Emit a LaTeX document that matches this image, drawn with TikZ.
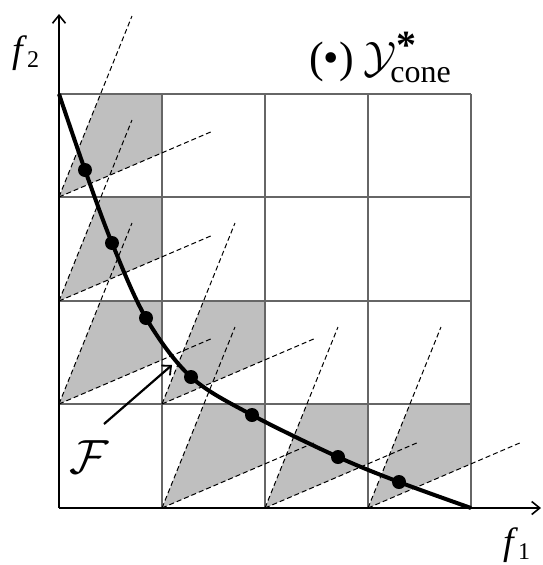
\RequirePackage{fix-cm}
\documentclass[tikz,border=0pt]{standalone}
\usepackage{fontspec}
\setmainfont{Liberation Serif}
\usetikzlibrary{arrows.meta}
\begin{document}
\begin{tikzpicture}[x=1pt,y=-1pt,
  gridline/.style={draw=black!60, line width=1.1pt},
  conefill/.style={fill=black!25},
  ray/.style={dash pattern=on 5pt off 3pt, line width=1pt},
  axis/.style={line width=1.8pt, -{Straight Barb[length=8pt,width=13pt,line width=1.6pt]}},
  curve/.style={line width=4pt},
  farrow/.style={line width=2.2pt, -{Straight Barb[length=7pt,width=13pt,line width=1.8pt]}},
  dot/.style={circle, fill=black, inner sep=0pt, minimum size=14pt},
  lbl/.style={inner sep=0pt, anchor=base west}]
\useasboundingbox (0,0) rectangle (543,565);

% shaded cone parts
\foreach \x/\y in {59/197, 59/301, 59/404, 162/404, 162/508, 265/508, 368/508} {
  \begin{scope}
    \clip (\x,\y) rectangle ++(103,-103.5);
    \fill[conefill] (\x,\y) -- ++(146,-362) -- ++(308,-132) -- ++(-146,362) -- cycle;
  \end{scope}
}

% grid
\foreach \x in {162,265,368,471} \draw[gridline] (\x,94) -- (\x,508);
\foreach \y in {94,197,301,404} \draw[gridline] (59,\y) -- (471,\y);

% cone rays
\foreach \x/\y in {59/197, 59/301, 59/404, 162/404, 162/508, 265/508, 368/508} {
  \draw[ray] (\x,\y) -- ++(73,-181);
  \draw[ray] (\x,\y) -- ++(154,-66);
}

% Pareto front and points
\coordinate (s) at (59,94);
\coordinate (e) at (471,508);
\node[dot] (d1) at (85,170) {};
\node[dot] (d2) at (112,243) {};
\node[dot] (d3) at (146,318) {};
\node[dot] (d4) at (191,377) {};
\node[dot] (d5) at (252,415) {};
\node[dot] (d6) at (338,457) {};
\node[dot] (d7) at (399,482) {};
\draw[curve] plot[smooth, tension=0.55] coordinates {(s) (d1.center) (d2.center) (d3.center) (d4.center) (d5.center) (d6.center) (d7.center) (e)};

% axes
\coordinate (o) at (59,508);
\coordinate (ytip) at (59,14);
\coordinate (xtip) at (541,508);
\draw[axis] (o) -- (ytip);
\draw[axis] (o) -- (xtip);

% labels
\node[lbl] (f2) at (12,62) {\fontsize{38}{38}\selectfont\textit{f}\raisebox{-5pt}{\fontsize{24}{24}\selectfont 2}};
\node[lbl] (f1) at (503,554) {\fontsize{38}{38}\selectfont\textit{f}\raisebox{-5pt}{\fontsize{24}{24}\selectfont 1}};
\node[lbl] (title) at (309,72) {\fontsize{44}{44}\selectfont (•)\hspace{10pt}$\mathcal{Y}^{\raisebox{-2pt}{\fontsize{40}{40}\selectfont\bfseries *}}_{\hspace{-3pt}\mbox{\fontsize{32}{32}\selectfont cone}}$};

% F label with arrow
\node (F) at (89,457) {\fontsize{48}{48}\selectfont$\mathcal{F}$};
\coordinate (Ftail) at (104,424);
\coordinate (Ftip) at (172,365);
\draw[farrow] (Ftail) -- (Ftip);
\end{tikzpicture}
\end{document}
